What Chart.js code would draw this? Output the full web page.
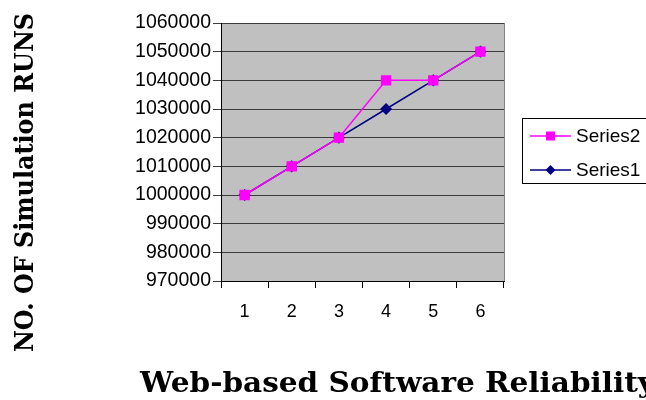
<!DOCTYPE html>
<html>
<head>
<meta charset="utf-8">
<script src="https://cdn.jsdelivr.net/npm/chart.js@4.4.0/dist/chart.umd.min.js"></script>
<style>
  html, body { margin: 0; padding: 0; background: #fff; }
  #wrap { width: 646px; height: 400px; }
</style>
</head>
<body>
<div id="wrap"><canvas id="chart" width="646" height="400"></canvas></div>
<script>
const categories = ['1', '2', '3', '4', '5', '6'];
const series2 = [1000000, 1010000, 1020000, 1040000, 1040000, 1050000];
const series1 = [1000000, 1010000, 1020000, 1030000, 1040000, 1050000];
const yTicks = [970000, 980000, 990000, 1000000, 1010000, 1020000, 1030000, 1040000, 1050000, 1060000];

const xTitle = 'Web-based Software Reliability';
const yTitle = 'NO. OF Simulation RUNS';

// texto estirado a un ancho dado (la fuente original es más ancha)
function wideText(ctx, text, x, y, width) {
  const w = ctx.measureText(text).width;
  ctx.save();
  ctx.translate(x, y);
  ctx.scale(width / w, 1);
  ctx.fillText(text, 0, 0);
  ctx.restore();
}

const decor = {
  id: 'decor',
  beforeDraw(chart) {
    const { ctx, chartArea: a } = chart;
    ctx.save();
    ctx.fillStyle = '#c0c0c0';
    ctx.fillRect(a.left, a.top, a.right - a.left, a.bottom - a.top);
    ctx.restore();
  },
  afterDraw(chart) {
    const { ctx, chartArea: a } = chart;
    ctx.save();
    ctx.strokeStyle = '#808080';
    ctx.lineWidth = 1;
    ctx.beginPath();
    ctx.moveTo(a.right + 0.5, a.top);
    ctx.lineTo(a.right + 0.5, a.bottom);
    ctx.stroke();

    ctx.fillStyle = '#000';
    ctx.font = 'bold 27px "DejaVu Serif", "Liberation Serif", serif';
    ctx.textAlign = 'left';
    ctx.textBaseline = 'alphabetic';
    wideText(ctx, xTitle, 140, 392, 515);

    ctx.translate(33, 352);
    ctx.rotate(-Math.PI / 2);
    ctx.font = 'bold 26px "DejaVu Serif", "Liberation Serif", serif';
    wideText(ctx, yTitle, 0, 0, 339);
    ctx.restore();

    // leyenda
    ctx.save();
    ctx.strokeStyle = '#000';
    ctx.lineWidth = 1;
    ctx.strokeRect(522.5, 118.5, 130, 65);
    ctx.font = '19px "Liberation Sans"';
    ctx.textBaseline = 'middle';
    const rows = [136, 170];
    chart.data.datasets.forEach((ds, i) => {
      const y = rows[i];
      ctx.strokeStyle = ds.borderColor;
      ctx.lineWidth = 1.5;
      ctx.beginPath();
      ctx.moveTo(530, y);
      ctx.lineTo(571, y);
      ctx.stroke();
      ctx.fillStyle = ds.pointBackgroundColor;
      if (ds.pointStyle === 'rect') {
        ctx.fillRect(550.5 - 4.5, y - 4.5, 9, 9);
      } else {
        ctx.beginPath();
        ctx.moveTo(550.5, y - 5);
        ctx.lineTo(555.5, y);
        ctx.lineTo(550.5, y + 5);
        ctx.lineTo(545.5, y);
        ctx.closePath();
        ctx.fill();
      }
      ctx.fillStyle = '#000';
      ctx.fillText(ds.label, 576, y + 1);
    });
    ctx.restore();
  }
};

new Chart(document.getElementById('chart'), {
  type: 'line',
  data: {
    labels: categories,
    datasets: [
      {
        label: 'Series2',
        data: series2,
        borderColor: '#ff00ff',
        backgroundColor: '#ff00ff',
        pointBackgroundColor: '#ff00ff',
        pointBorderColor: '#ff00ff',
        pointStyle: 'rect',
        pointRadius: 6.3,
        borderWidth: 1.5,
        tension: 0
      },
      {
        label: 'Series1',
        data: series1,
        borderColor: '#000080',
        backgroundColor: '#000080',
        pointBackgroundColor: '#000080',
        pointBorderColor: '#000080',
        pointStyle: 'rectRot',
        pointRadius: 5,
        borderWidth: 1.5,
        tension: 0
      }
    ]
  },
  options: {
    responsive: false,
    animation: false,
    layout: { padding: { left: 0, top: 23, right: 142, bottom: 0 } },
    plugins: {
      legend: { display: false },
      tooltip: { enabled: false }
    },
    scales: {
      x: {
        offset: true,
        grid: { offset: true, drawOnChartArea: false, color: '#000', tickLength: 7 },
        border: { color: '#000' },
        ticks: { color: '#000', font: { family: 'Liberation Sans', size: 18 }, padding: 13 },
        afterFit: s => { s.height = 119; }
      },
      y: {
        min: yTicks[0],
        max: yTicks[yTicks.length - 1],
        afterBuildTicks: s => { s.ticks = yTicks.map(v => ({ value: v })); },
        grid: { color: '#3c3c3c', tickLength: 8 },
        border: { color: '#000' },
        ticks: {
          color: '#000',
          font: { family: 'Liberation Sans', size: 19.5 },
          padding: 2,
          callback: v => String(v)
        },
        afterFit: s => { s.width = 221; }
      }
    }
  },
  plugins: [decor]
});
</script>
</body>
</html>
